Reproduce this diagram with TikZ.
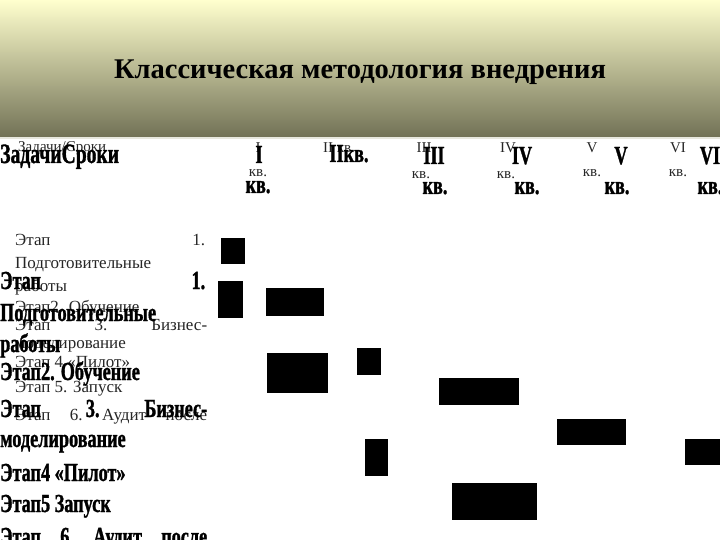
\documentclass[tikz,border=0pt]{standalone}
\usepackage{fontspec}
\setmainfont{Liberation Serif}
\newfontfamily\bigf{Liberation Serif}[UprightFont={* Bold}, FakeStretch=0.7, FakeBold=1.2]
\definecolor{hdtop}{RGB}{255,255,206}
\definecolor{hdmid}{RGB}{224,224,180}
\definecolor{hdbot}{RGB}{114,114,86}
\definecolor{hdline}{RGB}{232,232,222}
\tikzset{
  sm/.style={inner sep=0pt, anchor=base west, font=\fontsize{17}{20}\selectfont, text=black!85},
  smh/.style={inner sep=0pt, anchor=base, font=\fontsize{15}{18}\selectfont, text=black!85},
  bg/.style={inner sep=0pt, anchor=base west, font=\bigf\fontsize{26}{30}\selectfont},
  bgh/.style={inner sep=0pt, anchor=base, font=\bigf\fontsize{26}{30}\selectfont},
  bar/.style={fill=black}
}
\begin{document}
\begin{tikzpicture}[x=1pt,y=-1pt]
\useasboundingbox (0,0) rectangle (720,540);
\fill[white] (0,0) rectangle (720,540);
% header band
\shade[top color=hdtop, middle color=hdmid, bottom color=hdbot] (0,0) rectangle (720,137);
\fill[hdline] (0,137) rectangle (720,139.5);
\node[inner sep=0pt, anchor=base, font=\bfseries\fontsize{28.5}{32}\selectfont] (title) at (360,79) {Классическая методология внедрения};
% header row, small layer
\node[sm, font=\fontsize{15}{18}\selectfont] (hs) at (18,152) {Задачи/Сроки};
\node[smh] (s1) at (258,153) {I};
\node[smh] (s2) at (339,153) {II кв.};
\node[smh] (s3) at (424,153) {III};
\node[smh] (s4) at (508,153) {IV};
\node[smh] (s5) at (592,153) {V};
\node[smh] (s6) at (678,153) {VI};
\node[smh] (k1) at (258,177) {кв.};
\node[smh] (k3) at (421,179) {кв.};
\node[smh] (k4) at (506,179) {кв.};
\node[smh] (k5) at (592,177) {кв.};
\node[smh] (k6) at (678,177) {кв.};
% header row, large layer
\node[bg, font=\bigf\fontsize{28}{30}\selectfont] (hb) at (0,163) {ЗадачиСроки};
\node[bgh] (b1) at (259,163) {I};
\node[bgh] (b2) at (349,162) {IIкв.};
\node[bgh] (b3) at (434,164) {III};
\node[bgh] (b4) at (522,164) {IV};
\node[bgh] (b5) at (621,164) {V};
\node[bgh] (b6) at (710,164) {VI};
\node[bgh] (kb1) at (258,193) {кв.};
\node[bgh] (kb3) at (435,194) {кв.};
\node[bgh] (kb4) at (527,194) {кв.};
\node[bgh] (kb5) at (617,194) {кв.};
\node[bgh] (kb6) at (710,194) {кв.};
% task column, small layer
\node[sm] (t1) at (15,245) {\hbox to 190pt{Этап\hfill 1.}};
\node[sm] (t2) at (15,268) {Подготовительные};
\node[sm] (t3) at (15,291) {работы};
\node[sm] (t4) at (15,312) {Этап2. Обучение};
\node[sm] (t5) at (15,330) {\hbox to 192pt{Этап\hfill 3.\hfill Бизнес-}};
\node[sm] (t6) at (15,348) {моделирование};
\node[sm] (t7) at (15,367) {Этап 4 «Пилот»};
\node[sm] (t8) at (15,392) {Этап 5. Запуск};
\node[sm] (t9) at (15,420) {\hbox to 192pt{Этап\hfill 6.\hfill Аудит\hfill после}};
% task column, large layer
\node[bg] (u1) at (0,289) {\hbox to 205pt{Этап\hfill 1.}};
\node[bg] (u2) at (0,321) {Подготовительные};
\node[bg] (u3) at (0,352) {работы};
\node[bg] (u4) at (0,380) {Этап2. Обучение};
\node[bg] (u5) at (0,417) {\hbox to 207pt{Этап\hfill 3.\hfill Бизнес-}};
\node[bg] (u6) at (0,447) {моделирование};
\node[bg] (u7) at (0,481) {Этап4 «Пилот»};
\node[bg] (u8) at (0,512) {Этап5 Запуск};
\node[bg] (u9) at (0,545) {\hbox to 207pt{Этап\hfill 6.\hfill Аудит\hfill после}};
% bars
\fill[bar] (221,238) rectangle (245,264);
\fill[bar] (218,281) rectangle (243,318);
\fill[bar] (266,288) rectangle (324,316);
\fill[bar] (267,353) rectangle (328,393);
\fill[bar] (357,348) rectangle (381,375);
\fill[bar] (439,378) rectangle (519,405);
\fill[bar] (557,419) rectangle (626,445);
\fill[bar] (685,439) rectangle (720,465);
\fill[bar] (365,439) rectangle (388,476);
\fill[bar] (452,483) rectangle (537,520);
\end{tikzpicture}
\end{document}
